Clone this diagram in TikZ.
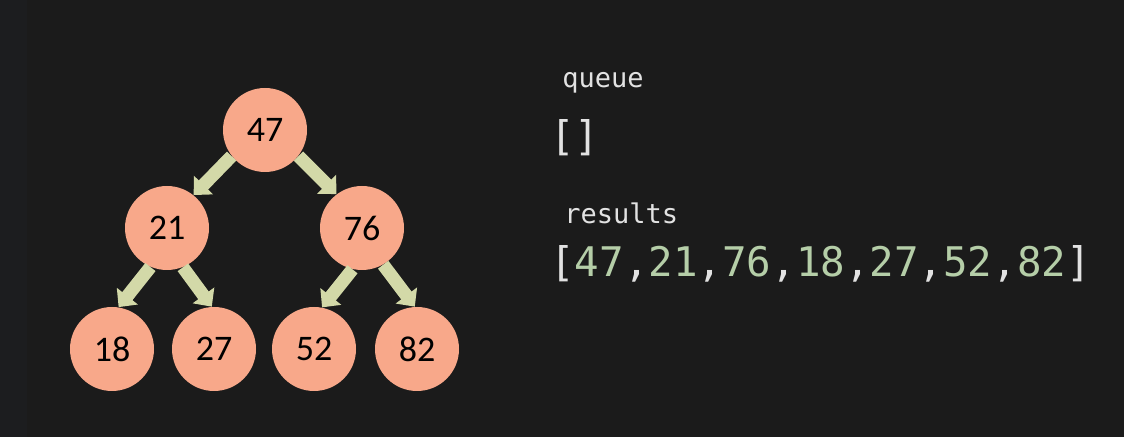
\documentclass[tikz,border=0pt]{standalone}
\usepackage{fontspec}
\setmainfont{Carlito}
\newfontfamily\codefont{DejaVu Sans Mono}
\usepackage{tikz}
\usetikzlibrary{arrows.meta,positioning}

\definecolor{bgdark}{HTML}{1B1B1B}
\definecolor{bgstrip}{HTML}{1C1D1F}
\definecolor{nodefill}{HTML}{F8A88A}
\definecolor{arrowfill}{HTML}{D3D9A8}
\definecolor{codetext}{HTML}{E2E2E2}
\definecolor{codenum}{HTML}{B5CEA8}

\tikzset{
  treenode/.style={circle,fill=nodefill,minimum size=42pt,inner sep=0pt,
    font=\fontsize{18}{18}\selectfont,text=black},
  fatarrow/.style={draw=arrowfill,line width=6.5pt,
    -{Triangle[width=13pt,length=7pt]}},
  codelabel/.style={anchor=base west,inner sep=0pt,text=codetext,
    font=\codefont\fontsize{13.5}{13.5}\selectfont},
  codelist/.style={codelabel,font=\codefont\fontsize{20.4}{20.4}\selectfont},
}
\newcommand{\num}[1]{\textcolor{codenum}{#1}}

\begin{document}
\begin{tikzpicture}[x=0.5pt,y=-0.5pt]
	\fill[bgdark] (0,0) rectangle (1124,437);
	\fill[bgstrip] (0,0) rectangle (27,437);

	\node[treenode] at (265,130) (n47) {47};
	\node[treenode] at (167,228) (n21) {21};
	\node[treenode] at (362,228) (n76) {76};
	\node[treenode] at (112,349) (n18) {18};
	\node[treenode] at (214,349) (n27) {27};
	\node[treenode] at (314,349) (n52) {52};
	\node[treenode] at (417,349) (n82) {82};

	\draw[fatarrow] (n47.-142) -- (n21.51);
	\draw[fatarrow] (n47.-38) -- (n76.127);
	\draw[fatarrow] (n21.-113) -- (n18.81);
	\draw[fatarrow] (n21.-68) -- (n27.93);
	\draw[fatarrow] (n76.-103) -- (n52.79);
	\draw[fatarrow] (n76.-60) -- (n82.93);

	\node[codelabel] at (562,88) (queue) {queue};
	\node[codelist] at (550,151) (qlist) {[]};
	\node[codelabel] at (564,224) (results) {results};
	\node[codelist] at (550,277) (rlist)
		{[\num{47},\num{21},\num{76},\num{18},\num{27},\num{52},\num{82}]};
\end{tikzpicture}
\end{document}
